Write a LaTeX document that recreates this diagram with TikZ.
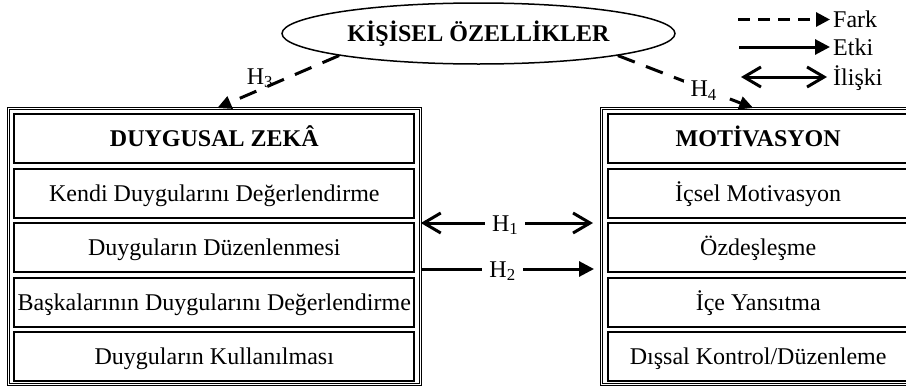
\documentclass[tikz,border=0pt]{standalone}
\usepackage{fontspec}
\setmainfont{Liberation Serif}
\usetikzlibrary{arrows.meta,shapes.geometric}

\tikzset{
    yazi/.style={font=\fontsize{24pt}{28pt}\selectfont, text height=16pt, text depth=0pt},
    kutu/.style={yazi, draw, line width=2pt, minimum height=49pt, inner sep=0pt},
    baslik/.style={kutu, font=\fontsize{24pt}{28pt}\selectfont\bfseries},
    dis/.style={draw, double, line width=1pt, double distance=1.5pt, inner sep=0pt, minimum height=276pt},
    elips/.style={yazi, font=\fontsize{24pt}{28pt}\selectfont\bfseries, ellipse, draw, line width=1.5pt, minimum width=393pt, minimum height=61pt, inner sep=0pt},
    etiket/.style={yazi, fill=white, inner xsep=7pt, inner ysep=1pt},
    lejant/.style={yazi, anchor=west, inner xsep=3pt, inner ysep=0pt},
    farkok/.style={line width=3pt, dash pattern=on 12pt off 8pt, -{Triangle[length=14pt,width=14pt]}},
    hipok/.style={line width=3pt, dash pattern=on 18pt off 12pt, -{Triangle[length=14pt,width=13pt]}},
    etkiok/.style={line width=3pt, -{Triangle[length=15pt,width=15pt]}},
    iliskiok/.style={line width=3pt, {Straight Barb[length=17pt,width=20pt]}-{Straight Barb[length=17pt,width=20pt]}}
}

\begin{document}
\begin{tikzpicture}[x=1pt, y=-1pt]
            \useasboundingbox (0,0) rectangle (906,386);

            \coordinate (h1) at (510,223);
            \coordinate (h2) at (510,269);
            \coordinate (farkbas) at (738,19.5);
            \coordinate (etkibas) at (739,47);
            \coordinate (iliskibas) at (741,77);

            \node[elips] (kisisel) at (478.5,33.5) {KİŞİSEL ÖZELLİKLER};

            \node[dis, minimum width=412pt] (duygusal) at (214.3,246.5) {};
            \node[baslik, minimum width=400pt] (dzbaslik) at (214.3,138.5) {DUYGUSAL ZEKÂ};
            \node[kutu, minimum width=400pt] (dz1) at (214.3,193) {Kendi Duygularını Değerlendirme};
            \node[kutu, minimum width=400pt] (dz2) at (214.3,247.5) {Duyguların Düzenlenmesi};
            \node[kutu, minimum width=400pt] (dz3) at (214.3,302) {Başkalarının Duygularını Değerlendirme};
            \node[kutu, minimum width=400pt] (dz4) at (214.3,356.5) {Duyguların Kullanılması};

            \node[dis, minimum width=313.5pt] (motivasyon) at (758.25,246.5) {};
            \node[baslik, minimum width=301pt] (mtbaslik) at (758.2,138.5) {MOTİVASYON};
            \node[kutu, minimum width=301pt] (mt1) at (758.2,193) {İçsel Motivasyon};
            \node[kutu, minimum width=301pt] (mt2) at (758.2,247.5) {Özdeşleşme};
            \node[kutu, minimum width=301pt] (mt3) at (758.2,302) {İçe Yansıtma};
            \node[kutu, minimum width=301pt] (mt4) at (758.2,356.5) {Dışsal Kontrol/Düzenleme};

            \node[lejant] (fark) at (830,19.5) {Fark};
            \node[lejant] (etki) at (830,47) {Etki};
            \node[lejant] (iliski) at (830,77) {İlişki};

            \draw[farkok] (farkbas) -- (fark.west);
            \draw[etkiok] (etkibas) -- (etki.west);
            \draw[iliskiok, shorten >=3pt] (iliskibas) -- (iliski.west);

            \draw[iliskiok, shorten >=8pt] (duygusal.east |- h1) -- node[etiket, pos=0.468] (h1yazi) {H\textsubscript{1}} (motivasyon.west |- h1);
            \draw[etkiok, shorten >=7pt] (duygusal.east |- h2) -- node[etiket, pos=0.454] (h2yazi) {H\textsubscript{2}} (motivasyon.west |- h2);

            \draw[hipok] (kisisel.189) -- node[yazi, pos=0.65, above=3pt, inner sep=1pt] (h3yazi) {H\textsubscript{3}} ([xshift=3pt]duygusal.north);
            \draw[hipok] (kisisel.-9) -- node[etiket, pos=0.634] (h4yazi) {H\textsubscript{4}} ([xshift=-5pt]motivasyon.north);

\end{tikzpicture}
\end{document}
